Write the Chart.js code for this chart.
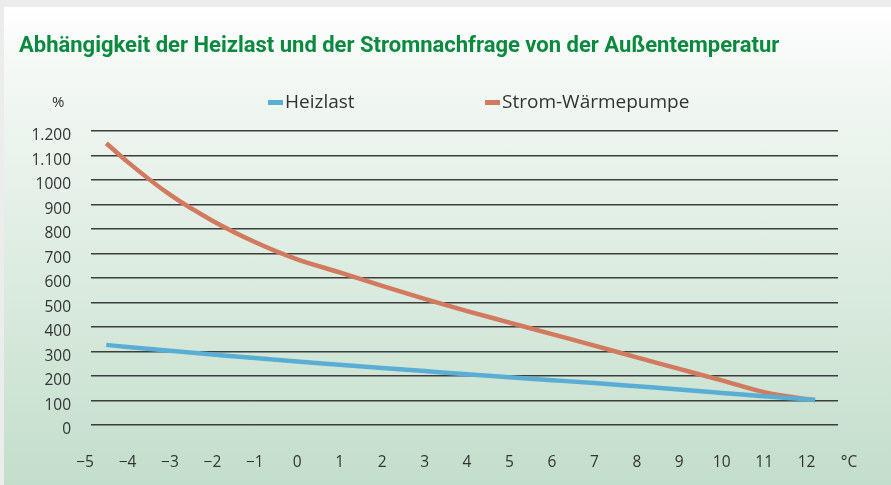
<!DOCTYPE html>
<html>
<head>
<meta charset="utf-8">
<script src="https://cdn.jsdelivr.net/npm/chart.js@4.4.1/dist/chart.umd.min.js"></script>
<style>
    html, body { margin: 0; padding: 0; }
    body { width: 891px; height: 485px; background: #ececec; position: relative; overflow: hidden; }
    #panel {
        position: absolute; left: 4px; top: 7px; right: 0; bottom: 0;
        background: linear-gradient(to bottom, #ffffff 0%, #f3f8f4 14%, #c3decb 100%);
    }
    #chart { position: absolute; left: 0; top: 0; }
</style>
</head>
<body>
<div id="panel"></div>
<canvas id="chart" width="891" height="485"></canvas>
<script>
const chartTitle = 'Abhängigkeit der Heizlast und der Stromnachfrage von der Außentemperatur';
const yUnit = '%';

// Außentemperatur in °C
const temperatures = [-4.5, -4, -3, -2, -1, 0, 1, 2, 3, 4, 5, 6, 7, 8, 9, 10, 11, 12, 12.2];
const heizlast = [327, 318, 303, 288, 273, 259, 246, 233, 220, 207, 195, 183, 171, 158, 145, 131, 117, 105, 102];
const stromWaermepumpe = [1150, 1074, 940, 834, 747, 676, 623, 568, 515, 465, 418, 371, 324, 276, 229, 182, 134, 106, 102];

const xTickValues = [-5, -4, -3, -2, -1, 0, 1, 2, 3, 4, 5, 6, 7, 8, 9, 10, 11, 12, 13];
const xTickLabels = ['−5', '−4', '−3', '−2', '−1', '0', '1', '2', '3', '4', '5', '6', '7', '8', '9', '10', '11', '12', '°C'];
const yTickLabels = ['0', '100', '200', '300', '400', '500', '600', '700', '800', '900', '1000', '1.100', '1.200'];

const toPoints = (values) => values.map((v, i) => ({ x: temperatures[i], y: v }));

// title, unit and legend are drawn by hand to sit where the original has them
const headerPlugin = {
    id: 'header',
    afterDraw(chart) {
        const ctx = chart.ctx;
        ctx.save();
        ctx.textBaseline = 'alphabetic';
        ctx.fillStyle = '#0b8a3f';
        ctx.font = 'bold 22px Roboto';
        ctx.fillText(chartTitle, 19, 52);

        ctx.fillStyle = '#333';
        ctx.font = '15px "Open Sans"';
        ctx.textBaseline = 'middle';
        ctx.fillText(yUnit, 52, 103);

        const legendX = [268, 485];
        ctx.font = '19px "Open Sans"';
        chart.data.datasets.forEach((ds, i) => {
            ctx.fillStyle = ds.borderColor;
            ctx.fillRect(legendX[i], 100, 15, 5);
            ctx.fillStyle = '#333';
            ctx.fillText(ds.label, legendX[i] + 17, 103);
        });
        ctx.restore();
    }
};

new Chart(document.getElementById('chart').getContext('2d'), {
    type: 'line',
    data: {
        datasets: [
            {
                label: 'Heizlast',
                data: toPoints(heizlast),
                borderColor: '#5aaed4',
                borderWidth: 4.5,
                pointRadius: 0,
                cubicInterpolationMode: 'monotone'
            },
            {
                label: 'Strom-Wärmepumpe',
                data: toPoints(stromWaermepumpe),
                borderColor: '#d27a5f',
                borderWidth: 4.5,
                pointRadius: 0,
                cubicInterpolationMode: 'monotone'
            }
        ]
    },
    options: {
        responsive: false,
        animation: false,
        layout: { padding: { top: 131, right: 53, bottom: 0, left: 0 } },
        plugins: {
            legend: { display: false },
            tooltip: { enabled: false }
        },
        scales: {
            x: {
                type: 'linear',
                min: -4.86,
                max: 12.74,
                grid: { display: false },
                border: { display: false },
                afterBuildTicks: (scale) => {
                    scale.ticks = xTickValues.map(v => ({ value: v }));
                },
                afterFit: (scale) => { scale.height = 60; },
                ticks: {
                    autoSkip: false,
                    maxRotation: 0,
                    padding: 20,
                    color: '#333',
                    font: { family: 'Open Sans', size: 15.5 },
                    callback: (value, index) => xTickLabels[index]
                }
            },
            y: {
                min: 0,
                max: 1200,
                grid: { color: '#3d3d3d', lineWidth: 1.5, drawTicks: false },
                border: { display: false },
                afterFit: (scale) => { scale.width = 91; },
                ticks: {
                    stepSize: 100,
                    padding: 20,
                    labelOffset: 5,
                    color: '#333',
                    font: { family: 'Open Sans', size: 15.5 },
                    callback: (value, index) => yTickLabels[index]
                }
            }
        }
    },
    plugins: [headerPlugin]
});
</script>
</body>
</html>
